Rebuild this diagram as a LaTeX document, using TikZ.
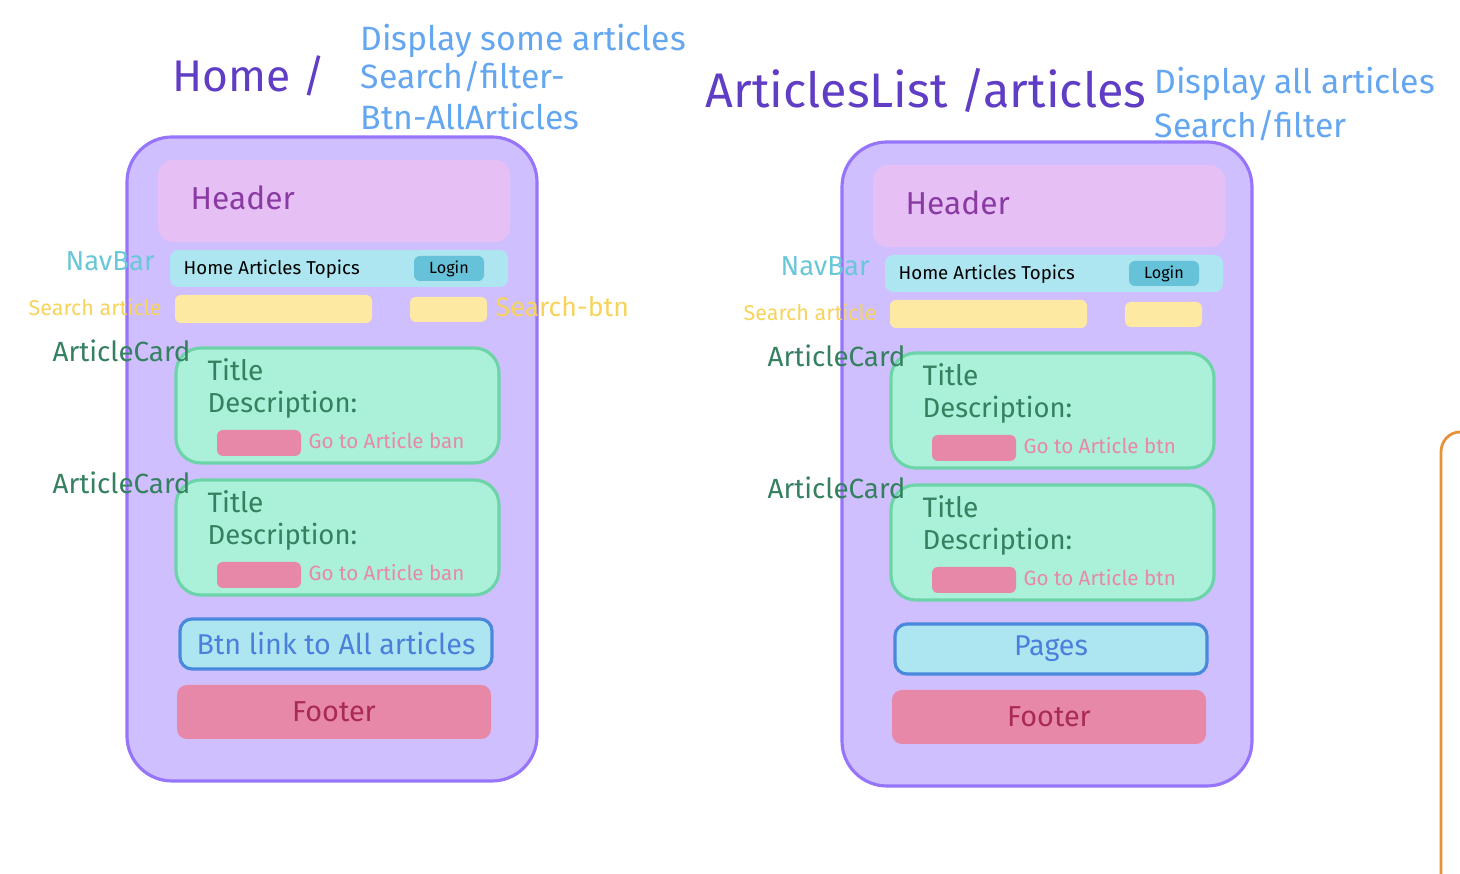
\documentclass[tikz,border=0pt]{standalone}
\usepackage{fontspec}
\setmainfont{Fira Sans}

\definecolor{phonefill}{HTML}{D0BFFF}
\definecolor{phoneline}{HTML}{9775FA}
\definecolor{headerfill}{HTML}{E6C0F5}
\definecolor{navfill}{HTML}{ADE6F0}
\definecolor{loginfill}{HTML}{66C2D9}
\definecolor{searchfill}{HTML}{FDE9A1}
\definecolor{cardfill}{HTML}{ABF0D9}
\definecolor{cardline}{HTML}{6DD4A9}
\definecolor{pinkfill}{HTML}{E888A8}
\definecolor{btnline}{HTML}{4A88DD}
\definecolor{titlepurple}{HTML}{5F3DC4}
\definecolor{noteblue}{HTML}{64A6EF}
\definecolor{headertext}{HTML}{8A3AA3}
\definecolor{navlabel}{HTML}{6AC7D8}
\definecolor{searchlabel}{HTML}{F7D35C}
\definecolor{cardgreen}{HTML}{34805F}
\definecolor{btnblue}{HTML}{4A80DC}
\definecolor{footerred}{HTML}{A82A55}
\definecolor{routeorange}{HTML}{E6923A}

\newcommand{\fsz}[1]{\fontsize{#1}{#1}\selectfont}

\tikzset{
  txt/.style={anchor=base west, inner sep=0pt},
  phonebox/.style={fill=phonefill, draw=phoneline, line width=0.9pt, rounded corners=12.8pt},
  headerbox/.style={fill=headerfill, rounded corners=4.3pt},
  navbox/.style={fill=navfill, rounded corners=2.3pt},
  loginbox/.style={fill=loginfill, rounded corners=1.7pt},
  searchbox/.style={fill=searchfill, rounded corners=1.7pt},
  cardbox/.style={fill=cardfill, draw=cardline, line width=0.9pt, rounded corners=7pt},
  pinkbox/.style={fill=pinkfill, rounded corners=1.7pt},
  ctabox/.style={fill=navfill, draw=btnline, line width=0.9pt, rounded corners=3.4pt},
  footerbox/.style={fill=pinkfill, rounded corners=2.8pt},
}

\begin{document}
\begin{tikzpicture}[x=0.01cm, y=-0.01cm]
  \useasboundingbox (0,0) rectangle (1460,874);

  % page titles and notes
  \node[txt, titlepurple, font=\fsz{12.6}] (hometitle) at (172,92) {Home /};
  \node[txt, noteblue, font=\fsz{9.6}] (homenote1) at (360,51) {Display some articles};
  \node[txt, noteblue, font=\fsz{9.6}] (homenote2) at (360,89) {Search/filter-};
  \node[txt, noteblue, font=\fsz{9.6}] (homenote3) at (360,130) {Btn-AllArticles};

  \node[txt, titlepurple, font=\fsz{13.8}] (listtitle) at (705,108) {ArticlesList /articles};
  \node[txt, noteblue, font=\fsz{9.6}] (listnote1) at (1154,94) {Display all articles};
  \node[txt, noteblue, font=\fsz{9.6}] (listnote2) at (1154,138) {Search/filter};

  % the two phones
  \foreach \n/\dx/\dy/\cta/\go in {L/0/0/{Btn link to All articles}/ban, R/715/5/Pages/btn} {
    \begin{scope}[shift={(\dx,\dy)}]
      \draw[phonebox] (127,137) rectangle (537,781);

      \fill[headerbox] (158,160) rectangle (510,242);
      \node[txt, headertext, font=\fsz{9}] (header\n) at (190,210) {Header};

      \fill[navbox] (170,250) rectangle (508,287);
      \node[txt, font=\fsz{5.3}] (navlinks\n) at (183,275) {Home Articles Topics};
      \fill[loginbox] (414,256) rectangle (484,281);
      \node[inner sep=0pt, font=\fsz{4.6}] (login\n) at (449,268.5) {Login};

      \fill[searchbox] (175,295) rectangle (372,323);
      \fill[searchbox] (410,297) rectangle (487,322);

      \foreach \k/\cy in {1/0, 2/132} {
        \draw[cardbox] (176,348+\cy) rectangle (499,463+\cy);
        \node[txt, cardgreen, font=\fsz{8}] (title\n\k) at (207,381+\cy) {Title};
        \node[txt, cardgreen, font=\fsz{7.8}] (desc\n\k) at (207,413+\cy) {Description:};
        \fill[pinkbox] (217,430+\cy) rectangle (301,456+\cy);
        \node[txt, pinkfill, font=\fsz{5.85}] (go\n\k) at (308,449+\cy) {Go to Article \go};
        \node[txt, cardgreen, font=\fsz{7.9}] (cardlabel\n\k) at (52,362+\cy) {ArticleCard};
      }

      \draw[ctabox] (180,619) rectangle (492,669);
      \node[btnblue, font=\fsz{8.15}] (cta\n) at (336,644) {\cta};

      \fill[footerbox] (177,685) rectangle (491,739);
      \node[footerred, font=\fsz{8.2}] (footer\n) at (334,712) {Footer};

      % side labels
      \node[txt, navlabel, font=\fsz{7.8}] (navlabel\n) at (65,271) {NavBar};
      \node[txt, searchlabel, font=\fsz{6.1}] (searchlabel\n) at (28,316) {Search article};
    \end{scope}
  }

  \node[txt, searchlabel, font=\fsz{7.6}] (searchbtn) at (495,317) {Search-btn};

  % route line at the right edge
  \draw[routeorange, line width=0.8pt] (1441,874) -- (1441,452) to[out=90, in=180] (1460,432);
\end{tikzpicture}
\end{document}
